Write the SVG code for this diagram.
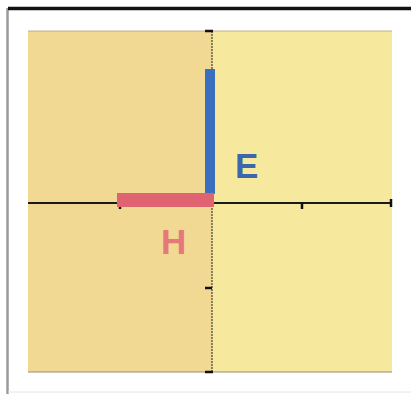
<svg xmlns="http://www.w3.org/2000/svg" width="411" height="394" viewBox="0 0 411 394">
  <style>
    .axis { stroke: #1a1a1a; fill: none; }
    .tick { stroke: #111; stroke-width: 2.5; }
    .lbl { font-family: "Liberation Sans", Arial, sans-serif; font-size: 35px; font-weight: bold; }
  </style>
  <rect x="0" y="0" width="411" height="394" fill="#ffffff"/>
  <g id="frame">
    <line x1="7.5" y1="8" x2="7.5" y2="394" stroke="#9a9a9a" stroke-width="2.5"/>
    <line x1="8" y1="8.5" x2="411" y2="8.5" stroke="#111" stroke-width="3.5"/>
    <line x1="8" y1="392" x2="411" y2="392" stroke="#e6e6e6" stroke-width="1"/>
  </g>
  <g id="plot">
    <rect x="28" y="31" width="184" height="341" fill="#f1d994"/>
    <rect x="212" y="31" width="180" height="341" fill="#f6e89c"/>
    <line x1="28" y1="31" x2="392" y2="31" stroke="#b8a070" stroke-width="0.8"/>
    <line x1="28" y1="372" x2="392" y2="372" stroke="#9a8c70" stroke-width="1"/>
  </g>
  <g id="axes">
    <line class="axis" x1="212" y1="31" x2="212" y2="372" stroke-width="1" stroke-dasharray="2 1"/>
    <line class="axis" x1="28" y1="203" x2="392" y2="203" stroke-width="1.8"/>
    <line class="tick" x1="205" y1="31" x2="213" y2="31"/>
    <line class="tick" x1="205" y1="288" x2="212" y2="288"/>
    <line class="tick" x1="205" y1="372" x2="213" y2="372"/>
    <line class="tick" x1="120" y1="203" x2="120" y2="209" stroke-width="1.5"/>
    <line class="tick" x1="302" y1="203" x2="302" y2="209" stroke-width="1.5"/>
    <line class="tick" x1="391" y1="199" x2="391" y2="207" stroke-width="1.5"/>
  </g>
  <g id="E">
    <rect x="205" y="69" width="10" height="125" fill="#3a6fc0"/>
    <text class="lbl" x="235" y="178" fill="#3d66ad">E</text>
  </g>
  <g id="H">
    <rect x="117" y="193" width="97" height="14" fill="#df6370"/>
    <text class="lbl" x="161" y="254" fill="#e6777a">H</text>
  </g>
</svg>
